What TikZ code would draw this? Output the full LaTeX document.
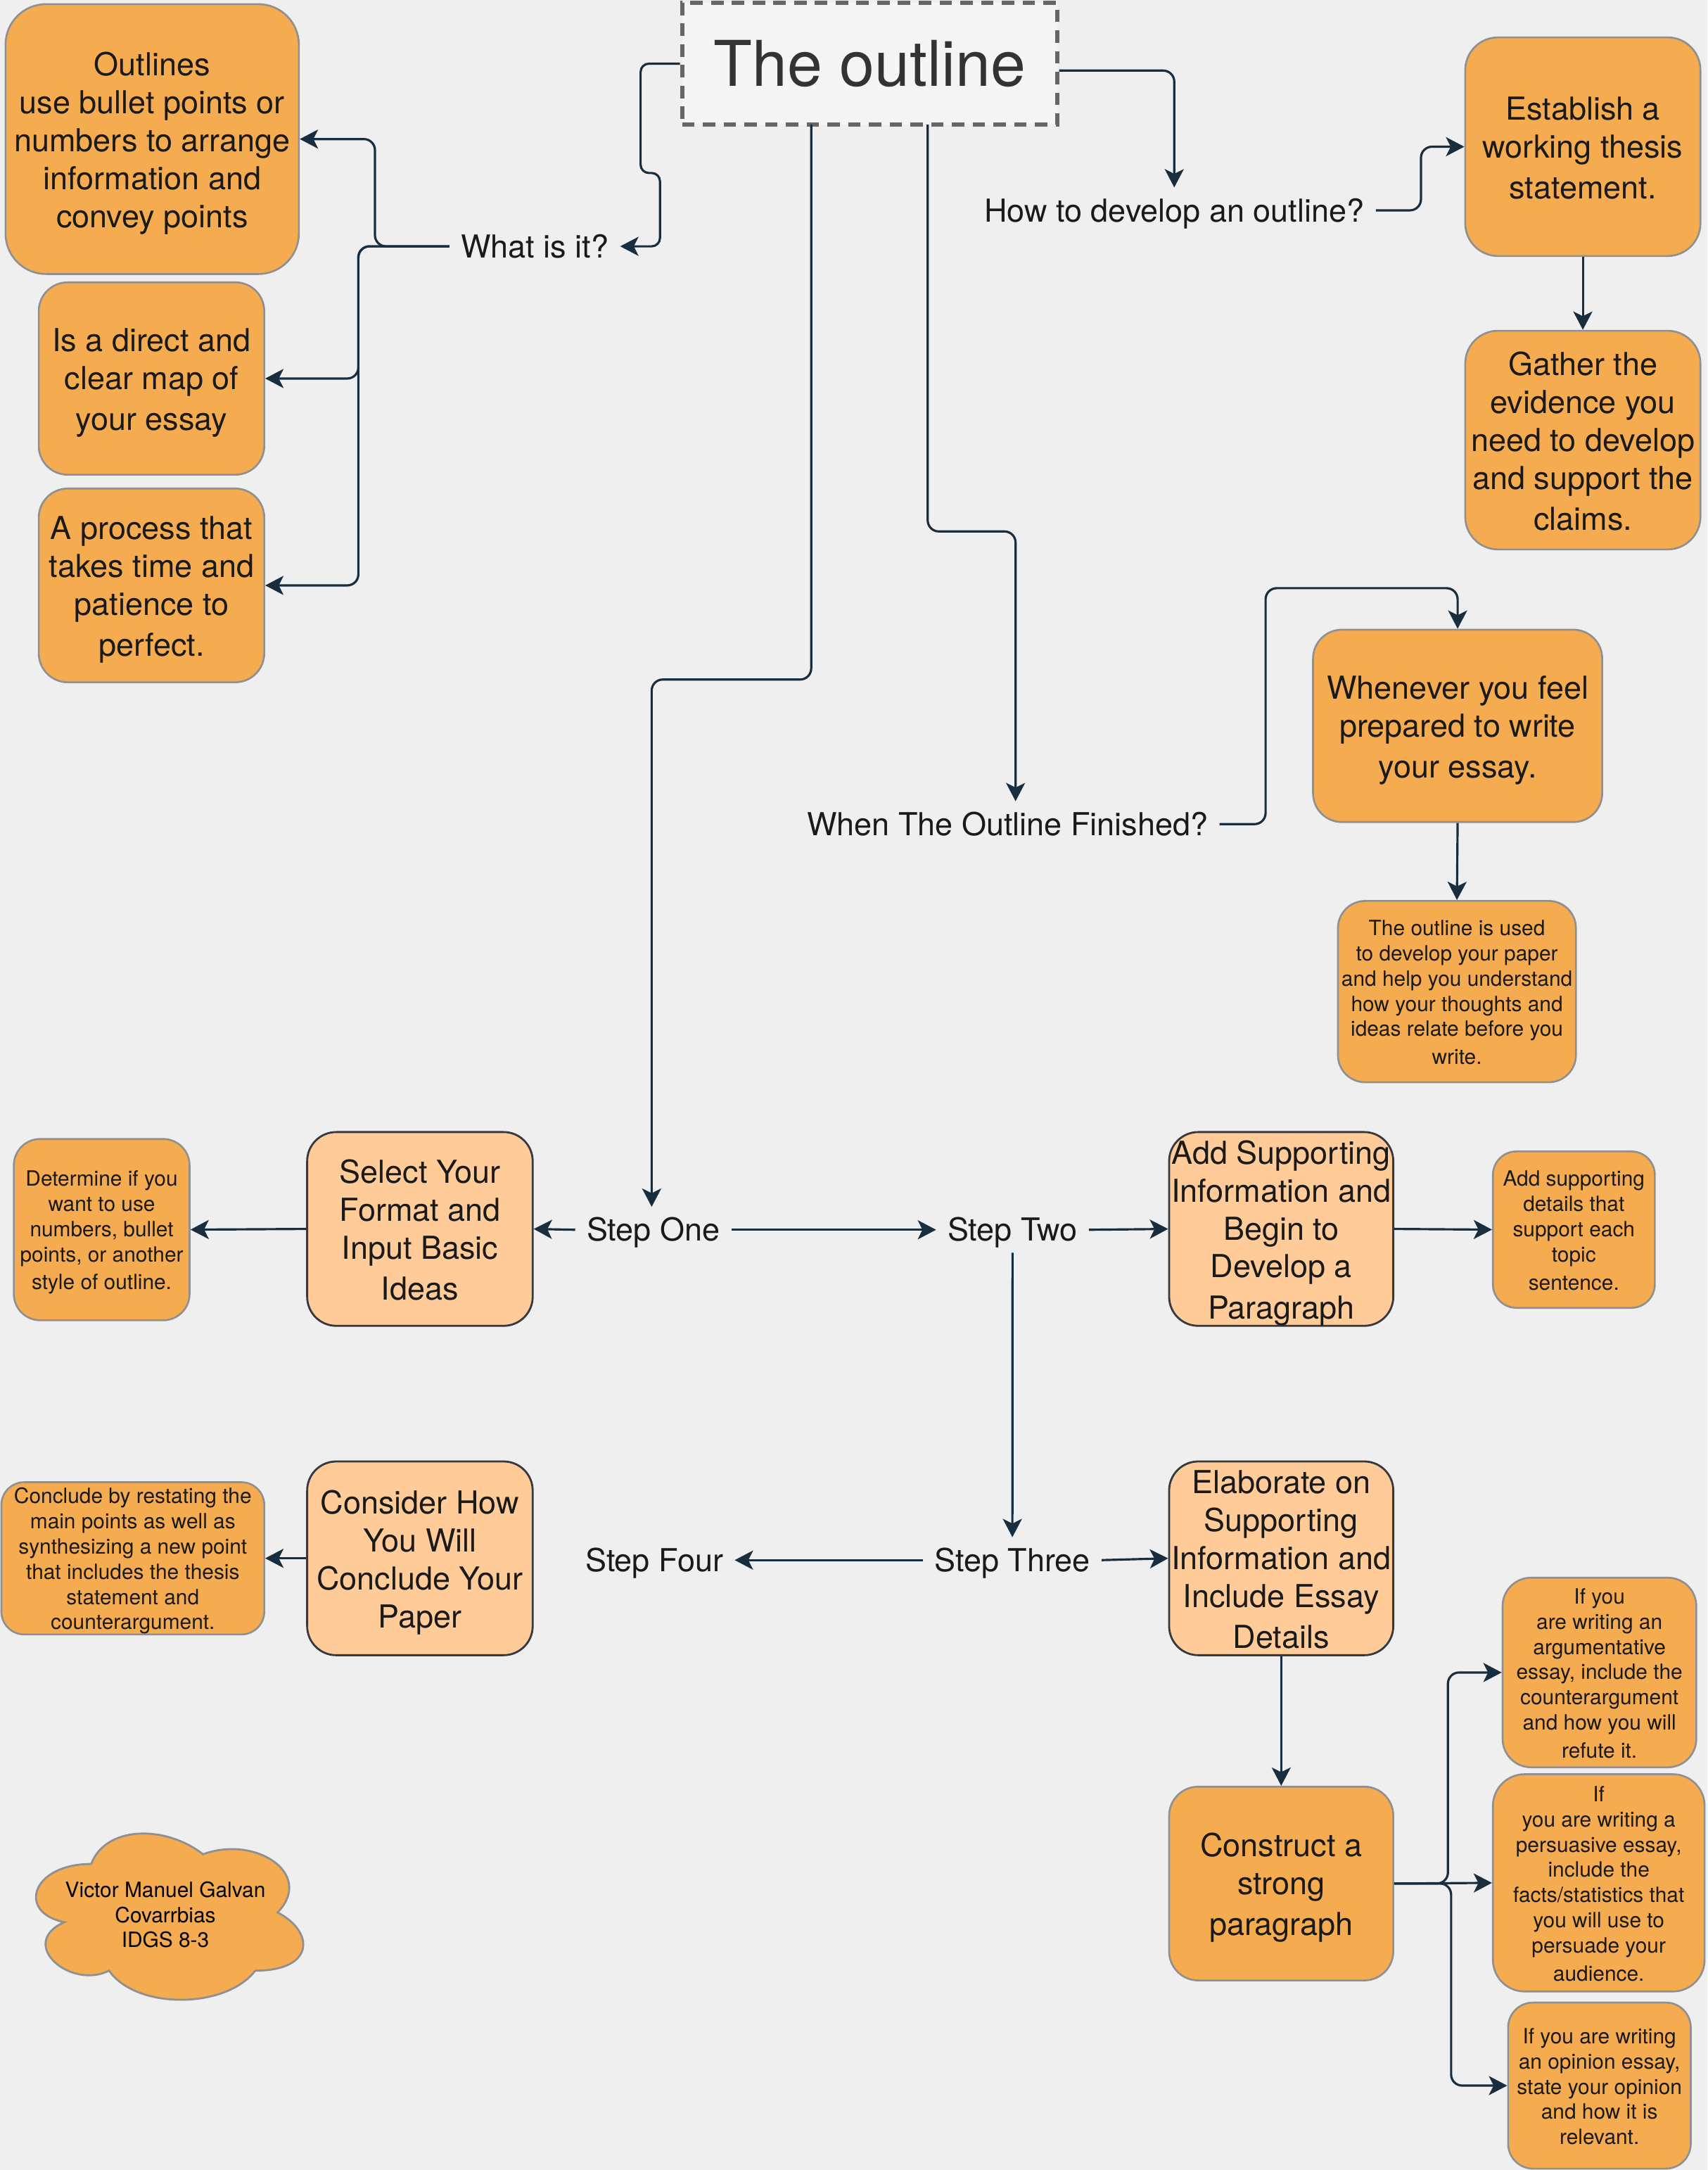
\documentclass[tikz,border=0pt]{standalone}
\usepackage{fontspec}
\setmainfont{TeX Gyre Heros}
\usetikzlibrary{arrows.meta}
\definecolor{bg}{HTML}{EFEFEF}
\definecolor{orng}{HTML}{F5AB50}
\definecolor{lorng}{HTML}{FFCC99}
\definecolor{bgray}{HTML}{909090}
\definecolor{dkb}{HTML}{36393D}
\definecolor{navy}{HTML}{182E3E}
\definecolor{txt}{HTML}{1A1A1A}
\definecolor{ttl}{HTML}{333333}
\definecolor{tfill}{HTML}{F5F5F5}
\definecolor{tdash}{HTML}{666666}
\newlength\pxu
\setlength\pxu{0.019668cm}
\newcommand\bstrut{\vrule width 0pt height 1.0em depth 0.2em\relax}
\newcommand\bx[7]{%
  \pgfmathsetmacro\bxw{#4-#2}%
  \pgfmathsetmacro\bxh{#5-#3}%
  \pgfmathsetmacro\bxr{0.15*min(\bxw,\bxh)}%
  \pgfmathsetmacro\bxcx{(#2+#4)/2}%
  \pgfmathsetmacro\bxcy{(#3+#5)/2}%
  \node[#6, minimum width=\bxw\pxu, minimum height=\bxh\pxu, rounded corners=\bxr\pxu] (#1) at (\bxcx,\bxcy) {\bstrut#7\bstrut};%
}
\tikzset{
  bigf/.style={font=\fontsize{12.8}{15.36}\selectfont},
  smallf/.style={font=\fontsize{8.5}{10.2}\selectfont},
  obox/.style={draw=bgray, fill=orng, line width=0.75pt, inner sep=0pt, align=center, bigf, text=txt},
  osmall/.style={obox, smallf},
  lbox/.style={draw=dkb, fill=lorng, line width=0.8pt, inner sep=0pt, align=center, bigf, text=txt},
  lbl/.style={inner sep=8\pxu, text height=9.2pt, text depth=0pt, bigf, text=txt},
  conn/.style={draw=navy, line width=0.9pt, rounded corners=8\pxu,
    -{Stealth[length=7.4pt,width=7.7pt,inset=1.9pt]}},
  ttlbox/.style={draw=tdash, fill=tfill, line width=1.7pt, dash pattern=on 9\pxu off 6\pxu,
    inner sep=0pt, minimum width=271\pxu, minimum height=88\pxu,
    font=\fontsize{25.5}{30}\selectfont, text=ttl}
}
\begin{document}
\begin{tikzpicture}[x=0.019668cm, y=-0.019668cm]
\fill[bg] (0,0) rectangle (1234,1568);
\useasboundingbox (0,0) rectangle (1234,1568);

% title
\node[ttlbox] (title) at (628.5,46) {The outline};

% left column
\bx{outl}{4}{3}{216}{198}{obox}{Outlines\\use bullet points or\\numbers to arrange\\information and\\convey points}
\bx{isdir}{28}{204}{191}{343}{obox}{Is a direct and\\clear map of\\your essay}
\bx{proc}{28}{353}{191}{493}{obox}{A process that\\takes time and\\patience to\\perfect.}

% right column
\bx{estab}{1059}{27}{1229}{185}{obox}{Establish a\\working thesis\\statement.}
\bx{gather}{1059}{239}{1229}{397}{obox}{Gather the\\evidence you\\need to develop\\and support the\\claims.}
\bx{whenever}{949}{455}{1158}{594}{obox}{Whenever you feel\\prepared to write\\your essay.}
\bx{used}{967}{651}{1139}{782}{osmall}{The outline is used\\to develop your paper\\and help you understand\\how your thoughts and\\ideas relate before you\\write.}

% steps
\bx{determ}{10}{823}{137}{954}{osmall}{Determine if you\\want to use\\numbers, bullet\\points, or another\\style of outline.}
\bx{select}{222}{818}{385}{958}{lbox}{Select Your\\Format and\\Input Basic\\Ideas}
\bx{addsup}{845}{818}{1007}{958}{lbox}{Add Supporting\\Information and\\Begin to\\Develop a\\Paragraph}
\bx{adddet}{1079}{832}{1196}{945}{osmall}{Add supporting\\details that\\support each\\topic\\sentence.}
\bx{concl}{1}{1071}{191}{1181}{osmall}{Conclude by restating the\\main points as well as\\synthesizing a new point\\that includes the thesis\\statement and\\counterargument.}
\bx{consider}{222}{1056}{385}{1196}{lbox}{Consider How\\You Will\\Conclude Your\\Paper}
\bx{elab}{845}{1056}{1007}{1196}{lbox}{Elaborate on\\Supporting\\Information and\\Include Essay\\Details}
\bx{constr}{845}{1291}{1007}{1431}{obox}{Construct a\\strong\\paragraph}
\bx{ifa}{1086}{1140}{1226}{1277}{osmall}{If you\\are writing an\\argumentative\\essay, include the\\counterargument\\and how you will\\refute it.}
\bx{ifb}{1079}{1282}{1232}{1439}{osmall}{If\\you are writing a\\persuasive essay,\\include the\\facts/statistics that\\you will use to\\persuade your\\audience.}
\bx{ifc}{1090}{1447}{1222}{1567}{osmall}{If you are writing\\an opinion essay,\\state your opinion\\and how it is\\relevant.}

% labels
\node[lbl] (what) at (386.5,178) {What is it?};
\node[lbl] (how) at (848.7,152) {How to develop an outline?};
\node[lbl] (when) at (728.2,595.5) {When The Outline Finished?};
\node[lbl] (s1) at (472.2,888.6) {Step One};
\node[lbl] (s2) at (731.8,888.6) {Step Two};
\node[lbl] (s3) at (731.7,1127.3) {Step Three};
\node[lbl] (s4) at (472.9,1127.3) {Step Four};

% cloud
\draw[fill=orng, draw=bgray, line width=0.8pt]
  (65.9,1346.85) .. controls (22.78,1346.85) and (12,1381.9) .. (46.5,1388.91)
  .. controls (12,1404.33) and (50.81,1437.98) .. (78.84,1423.96)
  .. controls (98.24,1452) and (162.92,1452) .. (184.48,1423.96)
  .. controls (227.6,1423.96) and (227.6,1395.92) .. (200.65,1381.9)
  .. controls (227.6,1353.86) and (184.48,1325.82) .. (146.75,1339.84)
  .. controls (119.8,1318.81) and (76.68,1318.81) .. (65.9,1346.85) -- cycle;
\node[smallf, align=center, text=black, inner sep=0pt] (author) at (119.5,1383) {\bstrut Victor Manuel Galvan\\Covarrbias\\IDGS 8-3\bstrut};

% connectors
\draw[conn, rounded corners=6\pxu] (title.west) -- (463,46) -- (463,125) -- (477,125) -- (477,178) -- (what.east);
\draw[conn] (what.west) -- (271,178) -- (271,100.5) -- (outl.east);
\draw[conn] (what.west) -- (259,178) -- (259,273.5) -- (isdir.east);
\draw[conn] (what.west) -- (259,178) -- (259,423) -- (proc.east);

\draw[conn] (title.east |- 0,51) -| (how.north);
\draw[conn] (how.east) -- (1027,152) |- (estab.west);
\draw[conn] (estab.south) -- (gather.north);

\draw[conn] (670.5,90) -- (670.5,384) -- (734,384) -- (734,0 |- when.north);
\draw[conn] (when.east) -- (914.7,595.5) -- (914.7,425) -- (1053.5,425) -- (whenever.north);
\draw[conn] (whenever.south) -- (used.north);

\draw[conn] (586.3,90) -- (586.3,491) -- (471,491) -- (471,0 |- s1.north);
\draw[conn] (s1.east) -- (s2.west);
\draw[conn] (s1.west) -- (select.east);
\draw[conn] (select.west) -- (determ.east);
\draw[conn] (s2.east) -- (addsup.west);
\draw[conn] (addsup.east) -- (adddet.west);
\draw[conn] (s2.south) -- (s3.north);
\draw[conn] (s3.west) -- (s4.east);
\draw[conn] (s3.east) -- (elab.west);
\draw[conn] (consider.west) -- (concl.east);
\draw[conn] (elab.south) -- (constr.north);

\draw[conn] (constr.east) -- (1046.5,1361) -- (1046.5,1208.5) -- (ifa.west);
\draw[conn] (constr.east) -- (ifb.west);
\draw[conn] (constr.east) -- (1048.8,1361) -- (1048.8,1507) -- (ifc.west);
\end{tikzpicture}
\end{document}
